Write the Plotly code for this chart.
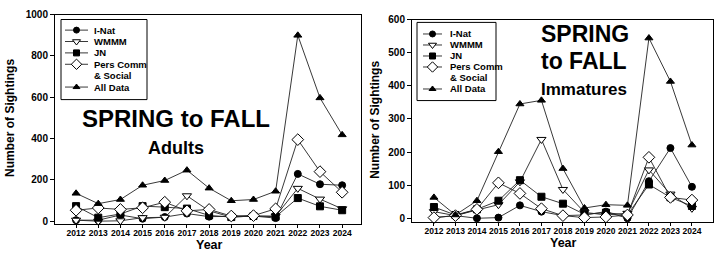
import plotly.graph_objects as go

W, H = 717, 257
FONT = "Liberation Sans"

years = list(range(2012, 2025))
year_labels = [str(y) for y in years]

series_names = ["I-Nat", "WMMM", "JN", "Pers Comm & Social", "All Data"]

# Adults (left panel)
inat_ad = [5, 5, 30, 12, 20, 37, 22, 25, 25, 15, 229, 179, 174]
wmmm_ad = [5, 0, 2, 17, 19, 123, 50, 20, 25, 25, 159, 107, 60]
jn_ad = [73, 17, 35, 73, 68, 61, 28, 20, 25, 22, 112, 72, 53]
pers_ad = [53, 64, 57, 65, 92, 50, 57, 25, 27, 60, 395, 240, 140]
all_ad = [135, 85, 105, 174, 197, 247, 160, 99, 105, 145, 900, 597, 418]

# Immatures (right panel)
inat_im = [2, 8, 0, 2, 39, 20, 8, 10, 20, 0, 112, 212, 95]
wmmm_im = [20, 8, 25, 41, 110, 238, 87, 18, 10, 15, 146, 73, 30]
jn_im = [34, 10, 27, 53, 115, 65, 44, 12, 17, 10, 102, 63, 37]
pers_im = [2, 8, 27, 107, 75, 29, 8, 2, 4, 10, 184, 63, 55]
all_im = [63, 10, 53, 201, 345, 356, 150, 31, 41, 39, 544, 413, 221]

yticks_ad = [0, 200, 400, 600, 800, 1000]
yticks_im = [0, 100, 200, 300, 400, 500, 600]

legend_rows = ["I-Nat", "WMMM", "JN", "Pers Comm", "& Social", "All Data"]
legend_symbol_rows = [0, 1, 2, 3, 5]

# marker styles per series
styles = [
    dict(symbol="circle", size=7, color="black", line=dict(color="black", width=1)),
    dict(symbol="triangle-down", size=8, color="white", line=dict(color="black", width=1)),
    dict(symbol="square", size=7, color="black", line=dict(color="black", width=1)),
    dict(symbol="diamond", size=9, color="white", line=dict(color="black", width=1)),
    dict(symbol="triangle-up", size=7, color="black", line=dict(color="black", width=1)),
]

fig = go.Figure()

panels = [
    ("x", "y", [inat_ad, wmmm_ad, jn_ad, pers_ad, all_ad]),
    ("x2", "y2", [inat_im, wmmm_im, jn_im, pers_im, all_im]),
]
for xa, ya, data in panels:
    for name, vals, st in zip(series_names, data, styles):
        fig.add_trace(go.Scatter(
            x=years, y=vals, mode="lines+markers", name=name,
            line=dict(color="#222", width=0.9), marker=st,
            xaxis=xa, yaxis=ya, showlegend=False, cliponaxis=False,
        ))


def px(v):
    return v / W


def py(v):
    return 1 - v / H


shapes = []
annotations = []


def draw_legend(x0, y0, x1, y1, row0, pitch, lx0, lx1, tx):
    shapes.append(dict(type="rect", xref="x3", yref="y3", x0=x0, y0=y0, x1=x1, y1=y1,
                       line=dict(color="black", width=1), fillcolor="white", layer="below"))
    for i, txt in enumerate(legend_rows):
        yy = row0 + i * pitch
        annotations.append(dict(text=txt, xref="x3", yref="y3", x=tx, y=yy,
                                xanchor="left", yanchor="middle", showarrow=False,
                                font=dict(family=FONT, size=9.5, color="black", weight="bold")))
    for k, r in enumerate(legend_symbol_rows):
        yy = row0 + r * pitch
        fig.add_trace(go.Scatter(x=[lx0, (lx0 + lx1) / 2, lx1], y=[yy, yy, yy],
                                 mode="lines", line=dict(color="#222", width=0.9),
                                 xaxis="x3", yaxis="y3", showlegend=False, hoverinfo="skip"))
        st = dict(styles[k])
        st["size"] = st["size"] - 1
        fig.add_trace(go.Scatter(x=[(lx0 + lx1) / 2], y=[yy], mode="markers", marker=st,
                                 xaxis="x3", yaxis="y3", showlegend=False, hoverinfo="skip"))


draw_legend(61, 14, 147, 97, 25, 11.8, 65, 88, 92)
draw_legend(417, 17, 496, 98, 29, 11.4, 423, 442, 448)

def ann(text, x, y, size, xanchor="center", textangle=0):
    annotations.append(dict(text=text, xref="x3", yref="y3", x=x, y=y, xanchor=xanchor,
                            yanchor="middle", showarrow=False, textangle=textangle,
                            font=dict(family=FONT, size=size, color="black", weight="bold")))

ann("SPRING to FALL", 176, 117, 24)
ann("Adults", 176, 147, 18)
ann("SPRING", 539, 29, 23, xanchor="left")
ann("to FALL", 539, 57, 23, xanchor="left")
ann("Immatures", 539, 87, 17, xanchor="left")
ann("Year", 209, 248, 12.5)
ann("Year", 563, 246, 12.5)
ann("Number of Sightings", 10, 116, 12, textangle=-90)
ann("Number of Sightings", 375, 118, 12, textangle=-90)

tickfont = dict(family=FONT, size=8.5, color="black", weight="bold")
ytickfont = dict(family=FONT, size=10, color="black", weight="bold")

common_x = dict(tickvals=years, ticktext=year_labels, showline=True, linecolor="black",
                linewidth=1, mirror=True, ticks="outside", ticklen=3, tickcolor="black",
                showgrid=False, zeroline=False, tickfont=tickfont, fixedrange=True,
                tickangle=0, ticklabelstandoff=-2)
common_y = dict(showline=True, linecolor="black", linewidth=1, mirror=True, ticks="outside",
                ticklen=4, tickcolor="black", showgrid=False, zeroline=False,
                tickfont=ytickfont, fixedrange=True)

fig.update_layout(
    width=W, height=H, margin=dict(l=0, r=0, t=0, b=0),
    paper_bgcolor="white", plot_bgcolor="rgba(0,0,0,0)",
    showlegend=False, hovermode=False,
    xaxis=dict(common_x, domain=[px(55), px(361)], range=[2011.05, 2024.85], anchor="y"),
    yaxis=dict(common_y, domain=[py(226), py(9)], range=[-14, 1000], tickvals=yticks_ad, anchor="x"),
    xaxis2=dict(common_x, domain=[px(412), px(713)], range=[2010.98, 2024.98], anchor="y2"),
    yaxis2=dict(common_y, domain=[py(224), py(14)], range=[-11.7, 600], tickvals=yticks_im, anchor="x2"),
    xaxis3=dict(domain=[0, 1], range=[0, W], visible=False, fixedrange=True, anchor="y3"),
    yaxis3=dict(domain=[0, 1], range=[H, 0], visible=False, fixedrange=True, anchor="x3"),
    shapes=shapes, annotations=annotations,
)

fig.write_html("out.html")
